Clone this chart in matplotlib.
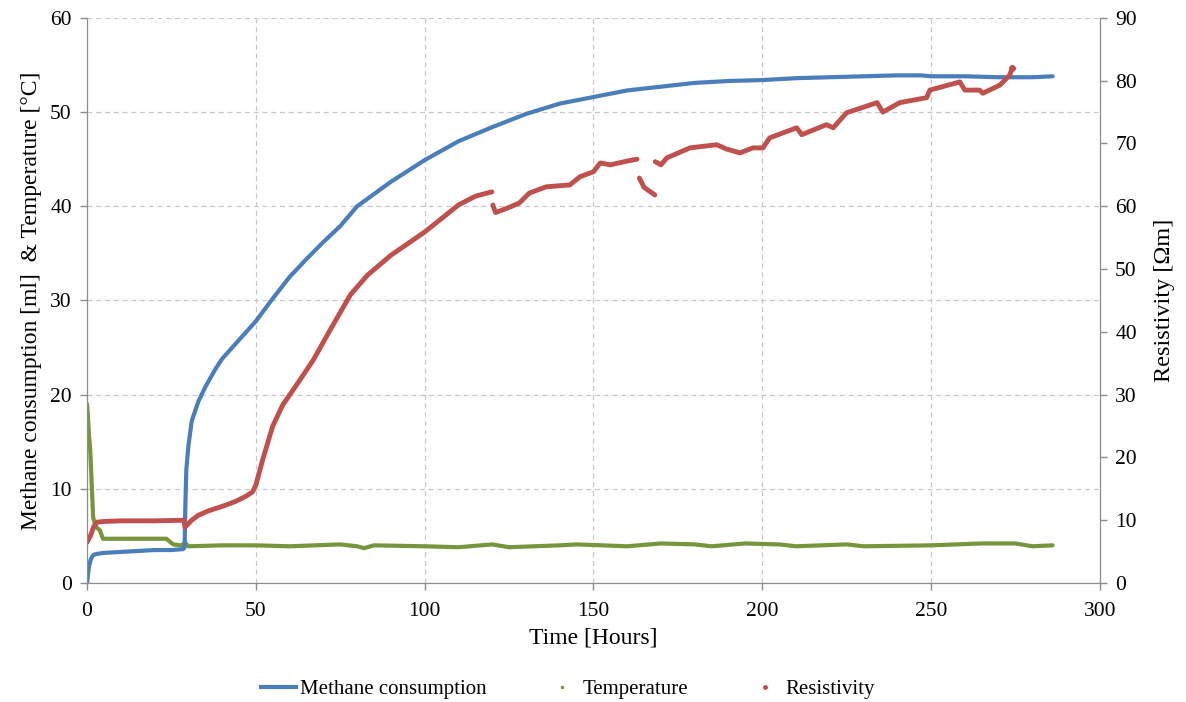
import numpy as np
import matplotlib.pyplot as plt
from matplotlib.lines import Line2D

plt.rcParams["font.family"] = ["Liberation Serif", "DejaVu Serif"]

# methane consumption [ml] vs time [h]
meth_t = [0, 0.3, 0.6, 1, 1.5, 2, 3, 5, 10, 15, 20, 25, 28.5, 28.9,
          29.1, 29.4, 30, 31, 33, 35, 38, 40, 45, 50, 55, 60, 65, 70, 75,
          80, 90, 100, 110, 120, 130, 140, 150, 160, 170, 180, 190, 200,
          210, 220, 230, 240, 247, 250, 260, 270, 274, 280, 286]
meth_v = [0, 1.0, 1.8, 2.4, 2.8, 3.0, 3.1, 3.2, 3.3, 3.4, 3.5, 3.5, 3.6, 3.8,
          8.0, 12.0, 14.5, 17.2, 19.3, 20.8, 22.7, 23.8, 25.8, 27.8, 30.2,
          32.5, 34.4, 36.2, 37.9, 40.0, 42.6, 44.9, 46.9, 48.4, 49.8, 50.9,
          51.6, 52.3, 52.7, 53.1, 53.3, 53.4, 53.6, 53.7, 53.8, 53.9, 53.9,
          53.8, 53.8, 53.7, 53.7, 53.7, 53.8]

# temperature [°C]
temp_t = [0, 0.3, 0.6, 0.9, 1.2, 1.5, 1.8, 2.5, 3.8, 4.7, 10, 15, 20, 23.5,
          25.5, 28, 29, 30, 40, 50, 60, 75, 80, 82, 85, 100, 110, 120, 125,
          140, 145, 160, 170, 180, 185, 195, 205, 210, 225, 230, 250, 265,
          275, 280, 286]
temp_v = [19.0, 17.5, 15.5, 14.4, 12.0, 9.5, 7.0, 6.0, 5.6, 4.7, 4.7, 4.7,
          4.7, 4.7, 4.1, 4.0, 4.3, 3.9, 4.0, 4.0, 3.9, 4.1, 3.9, 3.7, 4.0,
          3.9, 3.8, 4.1, 3.8, 4.0, 4.1, 3.9, 4.2, 4.1, 3.9, 4.2, 4.1, 3.9,
          4.1, 3.9, 4.0, 4.2, 4.2, 3.9, 4.0]

# resistivity [Ohm m], NaN marks the gaps in the record
res_t = [0, 1, 2, 3, 5, 10, 20, 28.7, 29, 31, 33, 36, 40, 44, 47, 49, 50,
         52, 55, 58, 62, 67, 72, 78, 83, 90, 100, 110, 115, 119.9,
         np.nan,
         120.2, 121, 124, 128, 131, 136, 143, 146, 150, 152, 155, 160, 162.9,
         np.nan,
         163.6, 165, 168.2,
         np.nan,
         168.3, 170, 171.7, 178.6, 186.5, 189.5, 193.4, 197.2, 200.2, 202.2,
         210.2, 211.7, 219, 221, 225, 234, 235.7, 240.7, 248.7, 249.6,
         258.5, 260, 264.4, 265.3, 270.4, 273.3, 274]
res_v = [6.5, 7.5, 9.0, 9.7, 9.8, 9.9, 9.9, 10.0, 8.9, 10.0, 10.8, 11.5,
         12.2, 13.0, 13.8, 14.5, 15.6, 19.6, 25.0, 28.4, 31.5, 35.5, 40.3,
         45.9, 49.0, 52.2, 55.9, 60.2, 61.6, 62.3,
         np.nan,
         60.2, 59.0, 59.6, 60.5, 62.1, 63.1, 63.4, 64.7, 65.5, 66.9, 66.6,
         67.2, 67.5,
         np.nan,
         64.5, 63.0, 61.8,
         np.nan,
         67.1, 66.6, 67.7, 69.3, 69.8, 69.1, 68.5, 69.3, 69.3, 70.9, 72.5,
         71.4, 73.0, 72.5, 74.9, 76.5, 75.0, 76.5, 77.3, 78.5, 79.8, 78.5,
         78.5, 78.0, 79.3, 80.9, 82.0]

c_meth = "#4a7ebb"
c_temp = "#77963c"
c_res = "#c0504d"
grid_c = "#c8c8c8"
spine_c = "#8c8c8c"

fig = plt.figure(figsize=(11.86, 7.02), dpi=100)
ax = fig.add_axes([0.0734, 0.1695, 0.854, 0.805])
ax2 = ax.twinx()

ax.plot(meth_t, meth_v, color=c_meth, lw=3, solid_capstyle="round", zorder=3)
ax.plot(temp_t, temp_v, color=c_temp, lw=3, solid_capstyle="round", zorder=2)
ax2.plot(res_t, res_v, color=c_res, lw=3.5, solid_capstyle="round")
ax2.plot([274], [82.0], "o", color=c_res, ms=4)

ax.set_xlim(0, 300)
ax.set_ylim(0, 60)
ax2.set_ylim(0, 90)
ax.set_xticks(np.arange(0, 301, 50))
ax.set_yticks(np.arange(0, 61, 10))
ax2.set_yticks(np.arange(0, 91, 10))

ax.grid(True, ls=(0, (4, 3)), color=grid_c, lw=0.9)
ax.set_axisbelow(True)

for a in (ax, ax2):
    a.spines["top"].set_visible(False)
    for s in ("left", "right", "bottom"):
        a.spines[s].set_color(spine_c)
    a.tick_params(labelsize=15.5, color=spine_c, length=5, width=1, pad=6)
ax.tick_params(axis="x", pad=9)

ax.set_xlabel("Time [Hours]", fontsize=17, labelpad=4)
ax.set_ylabel("Methane consumption [ml]  & Temperature [°C]", fontsize=17,
              labelpad=6)
ax2.set_ylabel("Resistivity [Ωm]", fontsize=17.5, labelpad=12)

handles = [
    Line2D([], [], color=c_meth, lw=3),
    Line2D([], [], color=c_temp, marker=".", ls="none", ms=3),
    Line2D([], [], color=c_res, marker=".", ls="none", ms=5),
]
fig.legend(handles, ["Methane consumption", "Temperature", "Resistivity"],
           loc="center", bbox_to_anchor=(0.479, 0.018), ncol=3,
           frameon=False, fontsize=15, handlelength=1.7, handletextpad=0.15,
           columnspacing=2.8)

fig.savefig("out.png", dpi=100)
